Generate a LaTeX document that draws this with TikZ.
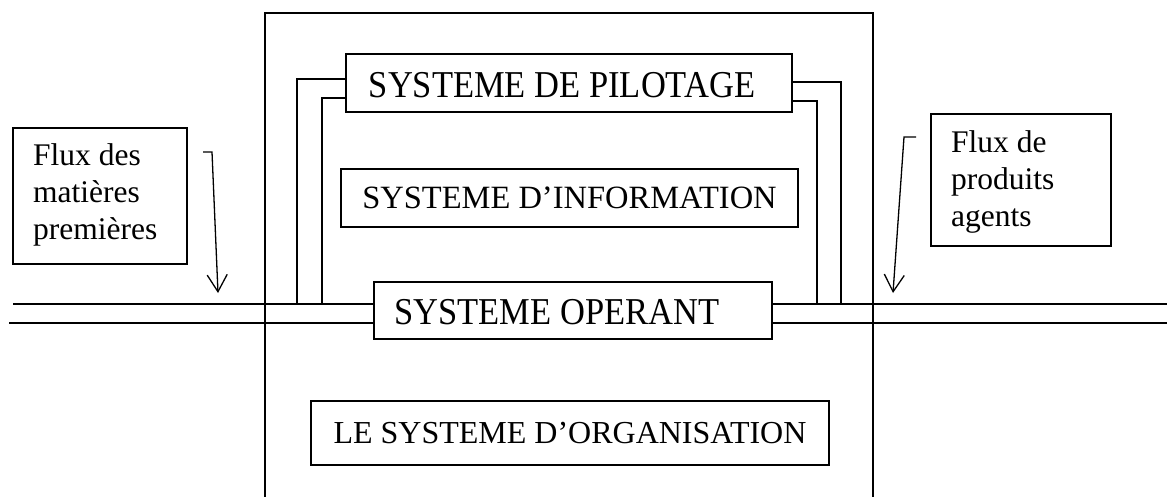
\documentclass[tikz,border=0pt]{standalone}
\usepackage{fontspec}
\setmainfont{Liberation Serif}
\usetikzlibrary{arrows.meta}
\tikzset{
  ln/.style={line width=1.3pt, black},
  sysbox/.style={draw, line width=1.3pt, inner sep=0pt, anchor=center, text depth=0pt},
  fluxbox/.style={draw, line width=1.3pt, inner sep=0pt},
  fluxtext/.style={inner sep=0pt, anchor=north west, align=left, font=\fontsize{31.5}{37}\selectfont},
  flowarrow/.style={ln, -{Straight Barb[length=17pt, width=20pt, line width=1.3pt]}}
}
\begin{document}
\begin{tikzpicture}[x=1pt, y=-1pt]
\useasboundingbox (0,0) rectangle (1167,497);
% main enclosing frame (open at the bottom)
\coordinate (fbl) at (265,497);
\coordinate (ftl) at (265,13);
\coordinate (ftr) at (873,13);
\coordinate (fbr) at (873,497);
\draw[ln] (fbl) -- (ftl) -- (ftr) -- (fbr);

% system boxes
\node[sysbox, minimum width=446pt, minimum height=58pt, text height=30pt,
      font=\fontsize{34.5}{40}\selectfont] (pil) at (569,83)
      {\scalebox{1}[1.1]{SYSTEME DE PILOTAGE}\kern14pt};
\node[sysbox, minimum width=457pt, minimum height=58pt, text height=22pt,
      font=\fontsize{32.5}{38}\selectfont] (info) at (569.5,198) {SYSTEME D’INFORMATION};
\node[sysbox, minimum width=398pt, minimum height=57pt, text height=27pt,
      font=\fontsize{34.5}{40}\selectfont] (oper) at (573,310.5)
      {\scalebox{1}[1.1]{SYSTEME OPERANT}\kern32pt};
\node[sysbox, minimum width=518pt, minimum height=64pt, text height=21pt,
      font=\fontsize{32}{38}\selectfont] (org) at (570,433) {LE SYSTEME D’ORGANISATION};

% flux boxes
\node[fluxbox, minimum width=174pt, minimum height=136pt] (fluxL) at (100,196) {};
\node[fluxtext] (fluxLt) at (33,143) {Flux des\\matières\\premières};
\node[fluxbox, minimum width=180pt, minimum height=132pt] (fluxR) at (1021,180) {};
\node[fluxtext] (fluxRt) at (951,130) {Flux de\\produits\\agents};

% flow lines
\coordinate (uL) at (13,304);
\coordinate (lL) at (9,323);
\coordinate (uR) at (1167,304);
\coordinate (lR) at (1167,323);
\draw[ln] (uL) -- (uL -| oper.west);
\draw[ln] (lL) -- (lL -| oper.west);
\draw[ln] (uR -| oper.east) -- (uR);
\draw[ln] (lR -| oper.east) -- (lR);

% pilotage links
\coordinate (pl1) at (297,79);
\coordinate (pl2) at (322,98);
\coordinate (pr1) at (841,82);
\coordinate (pr2) at (817,101);
\draw[ln] (pl1 -| pil.west) -- (pl1) -- (pl1 |- uL);
\draw[ln] (pl2 -| pil.west) -- (pl2) -- (pl2 |- uL);
\draw[ln] (pr1 -| pil.east) -- (pr1) -- (pr1 |- uL);
\draw[ln] (pr2 -| pil.east) -- (pr2) -- (pr2 |- uL);

% flux arrows
\coordinate (aL0) at (203,152);
\coordinate (aL1) at (212,152);
\coordinate (aL2) at (218,293);
\draw[flowarrow] (aL0) -- (aL1) -- (aL2);
\coordinate (aR0) at (916,137);
\coordinate (aR1) at (904,137);
\coordinate (aR2) at (893,293);
\draw[flowarrow] (aR0) -- (aR1) -- (aR2);
\end{tikzpicture}
\end{document}
